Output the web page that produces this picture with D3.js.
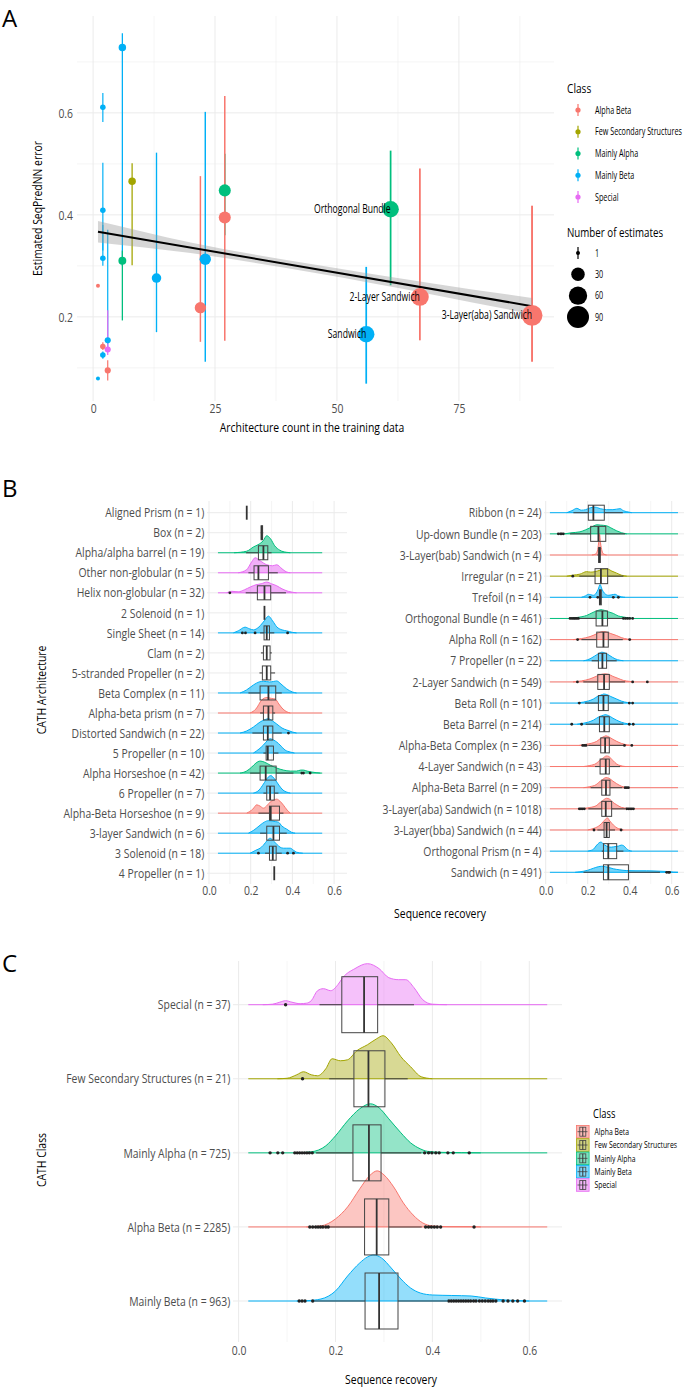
<!DOCTYPE html>
<html>
<head>
<meta charset="utf-8">
<script src="https://cdn.jsdelivr.net/npm/d3@7"></script>
<style>
body { margin: 0; background: #fff; }
text { font-family: "Open Sans", sans-serif; }
</style>
</head>
<body>
<svg width="685" height="1388"></svg>
<script>

// ---------- data: classes ----------
var classNames = ["Alpha Beta", "Few Secondary Structures", "Mainly Alpha", "Mainly Beta", "Special"];
var classColors = ["#F8766D", "#A3A500", "#00BF7D", "#00B0F6", "#E76BF3"];

// ---------- data: panel A (architecture error estimates) ----------
var archCount = [6, 2, 2, 2, 1, 3, 2, 3, 2, 3, 1, 8, 6, 13, 22, 23, 27, 27, 61, 56, 67, 90];
var archError = [0.728, 0.611, 0.409, 0.315, 0.261, 0.154, 0.142, 0.136, 0.125, 0.095, 0.079, 0.466, 0.31, 0.276, 0.218, 0.313, 0.448, 0.395, 0.411, 0.166, 0.239, 0.203];
var archLow = [0.30, 0.582, 0.33, 0.30, 0.261, 0.14, 0.135, 0.125, 0.118, 0.075, 0.079, 0.301, 0.193, 0.17, 0.151, 0.112, 0.36, 0.153, 0.262, 0.069, 0.154, 0.112];
var archHigh = [0.756, 0.639, 0.502, 0.38, 0.261, 0.371, 0.15, 0.213, 0.132, 0.115, 0.079, 0.501, 0.33, 0.522, 0.476, 0.602, 0.52, 0.633, 0.526, 0.298, 0.491, 0.418];
var archClass = ["Mainly Beta", "Mainly Beta", "Mainly Beta", "Mainly Beta", "Alpha Beta", "Mainly Beta", "Alpha Beta", "Special", "Mainly Beta", "Alpha Beta", "Mainly Beta",
  "Few Secondary Structures", "Mainly Alpha", "Mainly Beta", "Alpha Beta", "Mainly Beta", "Mainly Alpha", "Alpha Beta", "Mainly Alpha", "Mainly Beta", "Alpha Beta", "Alpha Beta"];
var archEstimates = [7, 3, 3, 3, 1, 4, 3, 4, 3, 4, 1, 7, 8, 13, 20, 20, 23, 23, 47, 47, 56, 80];
var archLabel = ["", "", "", "", "", "", "", "", "", "", "", "", "", "", "", "", "", "", "Orthogonal Bundle", "Sandwich", "2-Layer Sandwich", "3-Layer(aba) Sandwich"];
var fitX = [1, 90];
var fitY = [0.367, 0.221];
var bandX = [1, 20, 45, 70, 90];
var bandLo = [0.346, 0.325, 0.287, 0.243, 0.205];
var bandHi = [0.388, 0.346, 0.303, 0.265, 0.237];
var aXTicks = [0, 25, 50, 75];
var aXMinor = [12.5, 37.5, 62.5, 87.5];
var aYTicks = [0.2, 0.4, 0.6];
var aYMinor = [0.1, 0.3, 0.5, 0.7];
var sizeBreaks = [1, 30, 60, 90];

// ---------- data: panel B left ----------
var namesL = ["Aligned Prism (n = 1)", "Box (n = 2)", "Alpha/alpha barrel (n = 19)", "Other non-globular (n = 5)", "Helix non-globular (n = 32)",
  "2 Solenoid (n = 1)", "Single Sheet (n = 14)", "Clam (n = 2)", "5-stranded Propeller (n = 2)", "Beta Complex (n = 11)", "Alpha-beta prism (n = 7)",
  "Distorted Sandwich (n = 22)", "5 Propeller (n = 10)", "Alpha Horseshoe (n = 42)", "6 Propeller (n = 7)", "Alpha-Beta Horseshoe (n = 9)",
  "3-layer Sandwich (n = 6)", "3 Solenoid (n = 18)", "4 Propeller (n = 1)"];
var classL = [null, null, "Mainly Alpha", "Special", "Special", null, "Mainly Beta", null, null, "Mainly Beta", "Alpha Beta",
  "Mainly Beta", "Mainly Beta", "Mainly Alpha", "Mainly Beta", "Alpha Beta", "Mainly Beta", "Mainly Beta", null];
var boxL = [
  [0.181, 0.181, 0.181, 0.181, 0.181], [0.248, 0.25, 0.253, 0.257, 0.26], [0.178, 0.237, 0.261, 0.282, 0.30], [0.189, 0.216, 0.237, 0.285, 0.33],
  [0.176, 0.232, 0.266, 0.296, 0.369], [0.266, 0.266, 0.266, 0.266, 0.266], [0.245, 0.264, 0.277, 0.29, 0.313], [0.249, 0.261, 0.277, 0.293, 0.301],
  [0.242, 0.256, 0.277, 0.296, 0.317], [0.189, 0.245, 0.285, 0.32, 0.349], [0.245, 0.261, 0.285, 0.306, 0.317], [0.208, 0.261, 0.282, 0.306, 0.349],
  [0.261, 0.274, 0.282, 0.309, 0.333], [0.197, 0.245, 0.272, 0.322, 0.405], [0.261, 0.277, 0.293, 0.313, 0.333], [0.237, 0.29, 0.296, 0.338, 0.357],
  [0.245, 0.277, 0.309, 0.338, 0.373], [0.269, 0.29, 0.306, 0.322, 0.349], [0.313, 0.313, 0.313, 0.313, 0.313]];
var outL = [[], [], [], [], [0.10], [], [0.16, 0.175, 0.221, 0.377], [], [], [], [], [0.381], [], [0.445, 0.453, 0.485], [], [], [], [0.237, 0.377, 0.405], []];
var densL = [null, null,
  [[0.12, 0], [0.18, 1.5], [0.215, 6], [0.235, 8], [0.26, 12], [0.277, 17], [0.295, 14], [0.315, 7], [0.34, 2.5], [0.37, 0.5], [0.39, 0]],
  [[0.14, 0], [0.18, 3], [0.205, 11], [0.221, 15], [0.245, 12], [0.277, 8], [0.305, 7], [0.325, 8], [0.35, 4], [0.37, 1], [0.39, 0]],
  [[0.085, 0], [0.11, 1.5], [0.14, 1], [0.17, 3], [0.2, 6], [0.225, 8], [0.25, 9], [0.277, 10.7], [0.3, 9], [0.325, 7], [0.35, 4], [0.38, 1.5], [0.42, 0]],
  null,
  [[0.117, 0], [0.14, 2], [0.173, 5.7], [0.195, 4], [0.213, 3], [0.24, 6], [0.265, 12], [0.285, 16.7], [0.305, 12], [0.325, 6], [0.35, 3], [0.373, 2], [0.4, 0.5], [0.42, 0]],
  null, null,
  [[0.149, 0], [0.18, 3], [0.213, 8], [0.24, 11], [0.261, 11.7], [0.29, 11], [0.31, 11.5], [0.325, 12], [0.345, 9], [0.373, 4], [0.4, 1], [0.42, 0]],
  [[0.197, 0], [0.225, 4], [0.253, 13], [0.277, 15.5], [0.3, 14.5], [0.317, 14], [0.335, 9], [0.35, 5], [0.37, 1.5], [0.39, 0]],
  [[0.149, 0], [0.18, 2], [0.213, 6], [0.245, 11], [0.27, 13.5], [0.285, 14.3], [0.305, 12], [0.325, 9], [0.35, 5], [0.373, 3], [0.4, 1], [0.42, 0]],
  [[0.213, 0], [0.24, 4], [0.261, 8], [0.28, 12.5], [0.293, 14.3], [0.31, 13], [0.325, 11], [0.341, 8], [0.365, 3], [0.39, 1], [0.41, 0]],
  [[0.149, 0], [0.18, 2], [0.205, 6], [0.225, 10], [0.245, 12], [0.265, 11], [0.293, 8], [0.325, 5], [0.357, 3], [0.39, 2], [0.42, 2], [0.44, 3], [0.453, 3], [0.47, 2], [0.494, 1], [0.534, 0]],
  [[0.213, 0], [0.24, 3], [0.261, 9], [0.28, 15], [0.296, 17.5], [0.315, 14], [0.335, 8], [0.355, 3], [0.373, 1], [0.39, 0]],
  [[0.181, 0], [0.21, 4], [0.229, 8.3], [0.245, 7], [0.261, 5], [0.28, 8], [0.293, 11], [0.31, 13], [0.325, 14], [0.34, 12], [0.357, 8], [0.375, 3], [0.39, 0]],
  [[0.189, 0], [0.215, 3], [0.245, 8], [0.265, 11], [0.285, 12.5], [0.301, 12.3], [0.32, 11.5], [0.333, 11], [0.35, 7], [0.373, 4], [0.395, 1], [0.413, 0]],
  [[0.197, 0], [0.225, 3], [0.245, 5], [0.261, 8], [0.28, 13], [0.293, 15], [0.31, 12], [0.325, 9], [0.341, 6], [0.357, 5], [0.373, 5], [0.39, 5], [0.405, 3], [0.42, 1], [0.45, 0]],
  null];

// ---------- data: panel B right ----------
var namesR = ["Ribbon (n = 24)", "Up-down Bundle (n = 203)", "3-Layer(bab) Sandwich (n = 4)", "Irregular (n = 21)", "Trefoil (n = 14)",
  "Orthogonal Bundle (n = 461)", "Alpha Roll (n = 162)", "7 Propeller (n = 22)", "2-Layer Sandwich (n = 549)", "Beta Roll (n = 101)",
  "Beta Barrel (n = 214)", "Alpha-Beta Complex (n = 236)", "4-Layer Sandwich (n = 43)", "Alpha-Beta Barrel (n = 209)",
  "3-Layer(aba) Sandwich (n = 1018)", "3-Layer(bba) Sandwich (n = 44)", "Orthogonal Prism (n = 4)", "Sandwich (n = 491)"];
var classR = ["Mainly Beta", "Mainly Alpha", "Alpha Beta", "Few Secondary Structures", "Mainly Beta", "Mainly Alpha", "Alpha Beta", "Mainly Beta",
  "Alpha Beta", "Mainly Beta", "Mainly Beta", "Alpha Beta", "Alpha Beta", "Alpha Beta", "Alpha Beta", "Alpha Beta", "Mainly Beta", "Mainly Beta"];
var boxR = [
  [0.132, 0.203, 0.227, 0.279, 0.367], [0.116, 0.214, 0.251, 0.286, 0.378], [0.246, 0.252, 0.256, 0.26, 0.262], [0.16, 0.235, 0.263, 0.295, 0.37],
  [0.254, 0.256, 0.259, 0.265, 0.27], [0.163, 0.24, 0.27, 0.294, 0.367], [0.17, 0.243, 0.275, 0.298, 0.367], [0.219, 0.251, 0.27, 0.29, 0.338],
  [0.179, 0.248, 0.278, 0.303, 0.378], [0.187, 0.251, 0.275, 0.298, 0.37], [0.19, 0.256, 0.279, 0.303, 0.37], [0.203, 0.262, 0.283, 0.303, 0.37],
  [0.235, 0.259, 0.286, 0.303, 0.354], [0.214, 0.267, 0.287, 0.306, 0.365], [0.203, 0.267, 0.286, 0.314, 0.378], [0.246, 0.278, 0.29, 0.303, 0.33],
  [0.267, 0.275, 0.298, 0.338, 0.37], [0.18, 0.275, 0.298, 0.394, 0.544]];
var outR = [[], [0.06, 0.07, 0.076, 0.084], [], [0.129], [0.211, 0.248, 0.322, 0.346],
  [0.116, 0.125, 0.133, 0.14, 0.148, 0.156, 0.37, 0.38, 0.39, 0.40, 0.414], [0.152, 0.40], [], [0.151, 0.414, 0.484], [0.16, 0.398, 0.414],
  [0.124, 0.171, 0.398, 0.417], [0.176, 0.184, 0.192, 0.375, 0.41], [], [0.378, 0.386, 0.394],
  [0.16, 0.168, 0.176, 0.184, 0.386, 0.394, 0.402, 0.41, 0.418], [0.23, 0.359], [], [0.576, 0.584, 0.59]];
var densR = [
  [[0.1, 0], [0.125, 2], [0.148, 4.3], [0.17, 2.5], [0.19, 3], [0.215, 5], [0.235, 5.5], [0.26, 4], [0.29, 3], [0.32, 3], [0.354, 4], [0.37, 2], [0.386, 1], [0.41, 0]],
  [[0.09, 0], [0.12, 1], [0.163, 2], [0.19, 4], [0.211, 6], [0.23, 8], [0.243, 9], [0.26, 8.7], [0.29, 8], [0.31, 6], [0.338, 3], [0.36, 1.2], [0.386, 0]],
  [[0.22, 0], [0.238, 1], [0.246, 4], [0.252, 12], [0.256, 21], [0.261, 12], [0.268, 4], [0.276, 1], [0.29, 0]],
  [[0.1, 0], [0.13, 1], [0.163, 2], [0.195, 4.5], [0.215, 4], [0.235, 4.5], [0.26, 6], [0.28, 7], [0.295, 7], [0.315, 5], [0.338, 3], [0.36, 1], [0.386, 0]],
  [[0.17, 0], [0.19, 1.5], [0.203, 3], [0.215, 2.5], [0.227, 2], [0.24, 4], [0.25, 8], [0.259, 12.7], [0.268, 8], [0.28, 4], [0.298, 2], [0.315, 2.5], [0.33, 3], [0.345, 1.5], [0.36, 0.5], [0.378, 0]],
  [[0.11, 0], [0.15, 1], [0.195, 3], [0.225, 6], [0.25, 8], [0.263, 8.7], [0.28, 8], [0.3, 6.5], [0.322, 5], [0.345, 2.5], [0.37, 1.5], [0.395, 0.5], [0.42, 0]],
  [[0.13, 0], [0.17, 1], [0.211, 3], [0.24, 5.5], [0.26, 7.5], [0.275, 8], [0.29, 7.5], [0.31, 6], [0.338, 4], [0.36, 2], [0.39, 0.5], [0.41, 0]],
  [[0.18, 0], [0.2, 1], [0.22, 3], [0.243, 6], [0.26, 8], [0.267, 8.5], [0.28, 8], [0.306, 5], [0.33, 2], [0.354, 0.5], [0.37, 0]],
  [[0.13, 0], [0.17, 1], [0.211, 3], [0.24, 5.5], [0.265, 7.5], [0.283, 8], [0.3, 7.5], [0.32, 5.5], [0.345, 3.5], [0.37, 1.5], [0.4, 0.5], [0.42, 0]],
  [[0.15, 0], [0.18, 1], [0.227, 4], [0.25, 7], [0.27, 8.5], [0.275, 9], [0.29, 8.5], [0.31, 6.5], [0.338, 4], [0.36, 2], [0.39, 0.5], [0.41, 0]],
  [[0.15, 0], [0.18, 1], [0.227, 4], [0.255, 7.5], [0.275, 9], [0.283, 9.5], [0.3, 8.5], [0.32, 6], [0.338, 4], [0.36, 2], [0.39, 0.5], [0.41, 0]],
  [[0.16, 0], [0.19, 1], [0.243, 4], [0.265, 7.5], [0.28, 9], [0.286, 9.5], [0.3, 8.5], [0.32, 6], [0.338, 4], [0.36, 2], [0.39, 0.5], [0.41, 0]],
  [[0.18, 0], [0.21, 1], [0.24, 3], [0.251, 5], [0.27, 8], [0.29, 10.5], [0.3, 10], [0.32, 6], [0.338, 2.5], [0.354, 1], [0.38, 0]],
  [[0.18, 0], [0.21, 1], [0.24, 3], [0.251, 5], [0.27, 8], [0.287, 10], [0.3, 9.5], [0.32, 6.5], [0.338, 4], [0.36, 1.5], [0.39, 0]],
  [[0.17, 0], [0.2, 1], [0.24, 3], [0.251, 5], [0.27, 8], [0.29, 10.5], [0.305, 9.5], [0.32, 6.5], [0.338, 4], [0.36, 1.5], [0.39, 0.5], [0.41, 0]],
  [[0.2, 0], [0.227, 1.5], [0.245, 3], [0.259, 5], [0.275, 8.5], [0.294, 12], [0.305, 9], [0.322, 5], [0.34, 2], [0.354, 1], [0.37, 0]],
  [[0.2, 0], [0.211, 0.5], [0.228, 2], [0.243, 6], [0.263, 9], [0.278, 6.5], [0.29, 5], [0.305, 4], [0.314, 4], [0.33, 4.5], [0.346, 5], [0.36, 6], [0.37, 5.5], [0.385, 2.5], [0.394, 1], [0.41, 0]],
  [[0.14, 0], [0.163, 0.5], [0.2, 2], [0.227, 4], [0.25, 5.5], [0.267, 6], [0.285, 5.5], [0.305, 4.5], [0.322, 3.5], [0.35, 2.5], [0.386, 1.7], [0.43, 1.5], [0.481, 1.5], [0.53, 1.2], [0.576, 0.8], [0.608, 0.2], [0.63, 0]]];

// ---------- data: panel C ----------
var namesC = ["Special (n = 37)", "Few Secondary Structures (n = 21)", "Mainly Alpha (n = 725)", "Alpha Beta (n = 2285)", "Mainly Beta (n = 963)"];
var classC = ["Special", "Few Secondary Structures", "Mainly Alpha", "Alpha Beta", "Mainly Beta"];
var boxC = [[0.167, 0.213, 0.259, 0.287, 0.362], [0.187, 0.238, 0.268, 0.302, 0.349], [0.16, 0.236, 0.269, 0.294, 0.377],
  [0.185, 0.26, 0.285, 0.31, 0.378], [0.156, 0.261, 0.29, 0.329, 0.43]];
var outC = [[0.097], [0.132],
  [0.065, 0.081, 0.091, 0.116, 0.121, 0.126, 0.131, 0.136, 0.141, 0.146, 0.152, 0.384, 0.392, 0.399, 0.407, 0.414, 0.432, 0.443, 0.476],
  [0.147, 0.153, 0.159, 0.164, 0.169, 0.174, 0.18, 0.185, 0.386, 0.392, 0.398, 0.404, 0.41, 0.417, 0.486],
  [0.125, 0.131, 0.137, 0.153, 0.434, 0.439, 0.444, 0.449, 0.454, 0.459, 0.464, 0.469, 0.474, 0.479, 0.485, 0.49, 0.497, 0.503, 0.509, 0.515, 0.52, 0.525, 0.531, 0.546, 0.556, 0.566, 0.576, 0.59]];
var densC = [
  [[0.05, 0], [0.07, 0.5], [0.085, 2.5], [0.097, 4], [0.11, 2.5], [0.127, 1], [0.14, 1.5], [0.15, 4], [0.163, 14], [0.175, 16], [0.19, 14], [0.205, 20], [0.215, 27], [0.24, 36], [0.266, 41], [0.29, 36], [0.31, 27], [0.33, 25], [0.345, 25], [0.362, 17], [0.38, 5], [0.4, 0.5], [0.43, 0]],
  [[0.08, 0], [0.1, 0.5], [0.12, 4], [0.134, 7], [0.15, 4], [0.163, 3], [0.18, 10], [0.193, 20], [0.21, 18], [0.225, 19], [0.244, 28], [0.266, 34], [0.285, 40], [0.298, 43], [0.315, 36], [0.335, 22], [0.355, 12], [0.377, 2], [0.4, 0]],
  [[0.12, 0], [0.15, 1], [0.18, 7], [0.2, 17], [0.225, 32], [0.25, 44], [0.272, 49], [0.29, 45], [0.31, 34], [0.335, 20], [0.355, 10], [0.375, 4], [0.39, 1.5], [0.42, 0.5], [0.46, 0.2], [0.5, 0]],
  [[0.14, 0], [0.17, 1], [0.2, 8], [0.225, 20], [0.25, 38], [0.27, 51], [0.286, 56], [0.3, 52], [0.32, 40], [0.34, 24], [0.36, 12], [0.38, 4], [0.4, 1], [0.43, 0.3], [0.48, 0.2], [0.5, 0]],
  [[0.12, 0], [0.14, 0.3], [0.17, 2], [0.2, 10], [0.225, 25], [0.25, 38], [0.266, 44], [0.279, 46], [0.295, 43], [0.315, 33], [0.335, 22], [0.355, 13], [0.375, 8], [0.4, 6], [0.44, 5.5], [0.48, 5], [0.51, 3], [0.55, 1], [0.6, 0]]];
var recTicks = [0, 0.2, 0.4, 0.6];
var recMinor = [0.1, 0.3, 0.5];

// ---------- helpers ----------
var svg = d3.select("svg");
var color = d3.scaleOrdinal().domain(classNames).range(classColors);
var SQ = 0.8;   // the figure font is narrow, squeeze text horizontally
var GRID = "#EBEBEB";

function txt(g, x, y, s, size, anchor, k, rot) {
  return g.append("text")
    .attr("transform", "translate(" + x + "," + y + ")" + (rot ? " rotate(" + rot + ")" : "") + " scale(" + k + ",1)")
    .attr("text-anchor", anchor)
    .style("font-size", size + "px")
    .text(s);
}

function styleAxis(g, size, k) {
  g.attr("font-family", "Open Sans").attr("font-size", size);
  g.select(".domain").remove();
  g.selectAll("text").attr("fill", "#4D4D4D").attr("transform", "scale(" + k + ",1)");
}

function vgrid(g, xs, major, minor, y1, y2) {
  g.selectAll(null).data(minor).enter().append("line")
    .attr("x1", xs).attr("x2", xs).attr("y1", y1).attr("y2", y2)
    .attr("stroke", GRID).attr("stroke-width", 0.5);
  g.selectAll(null).data(major).enter().append("line")
    .attr("x1", xs).attr("x2", xs).attr("y1", y1).attr("y2", y2)
    .attr("stroke", GRID).attr("stroke-width", 1);
}

// ================= PANEL A =================
var gA = svg.append("g");
var ax = d3.scaleLinear().domain([-3.3, 94.5]).range([77, 554]);
var ay = d3.scaleLinear().domain([0.035, 0.79]).range([401, 16]);
var ar = d3.scaleSqrt().domain([1, 90]).range([2, 11]);

vgrid(gA, ax, aXTicks, aXMinor, ay.range()[1], ay.range()[0]);
gA.selectAll(null).data(aYMinor).enter().append("line")
  .attr("x1", ax.range()[0]).attr("x2", ax.range()[1]).attr("y1", ay).attr("y2", ay)
  .attr("stroke", GRID).attr("stroke-width", 0.5);
gA.selectAll(null).data(aYTicks).enter().append("line")
  .attr("x1", ax.range()[0]).attr("x2", ax.range()[1]).attr("y1", ay).attr("y2", ay)
  .attr("stroke", GRID).attr("stroke-width", 1);

var gax = gA.append("g").attr("transform", "translate(0," + ay.range()[0] + ")")
  .call(d3.axisBottom(ax).tickValues(aXTicks).tickSize(0).tickPadding(3).tickFormat(d3.format("d")));
styleAxis(gax, 13, SQ);
var gay = gA.append("g").attr("transform", "translate(" + ax.range()[0] + ",0)")
  .call(d3.axisLeft(ay).tickValues(aYTicks).tickSize(0).tickPadding(5).tickFormat(d3.format(".1f")));
styleAxis(gay, 13, SQ);

// error bars then points
var idxA = d3.range(archCount.length);
gA.selectAll(".bar").data(idxA).enter().append("line")
  .attr("x1", function (i) { return ax(archCount[i]); })
  .attr("x2", function (i) { return ax(archCount[i]); })
  .attr("y1", function (i) { return ay(archLow[i]); })
  .attr("y2", function (i) { return ay(archHigh[i]); })
  .attr("stroke", function (i) { return color(archClass[i]); })
  .attr("stroke-width", function (i) { return 0.9 + ar(archEstimates[i]) * 0.1; });

// regression band + line
var bandIdx = d3.range(bandX.length);
gA.append("path").datum(bandIdx)
  .attr("d", d3.area().x(function (i) { return ax(bandX[i]); })
    .y0(function (i) { return ay(bandLo[i]); }).y1(function (i) { return ay(bandHi[i]); }).curve(d3.curveMonotoneX))
  .attr("fill", "#999").attr("fill-opacity", 0.4);
gA.append("line")
  .attr("x1", ax(fitX[0])).attr("x2", ax(fitX[1])).attr("y1", ay(fitY[0])).attr("y2", ay(fitY[1]))
  .attr("stroke", "#000").attr("stroke-width", 2);

gA.selectAll(".pt").data(idxA).enter().append("circle")
  .attr("cx", function (i) { return ax(archCount[i]); })
  .attr("cy", function (i) { return ay(archError[i]); })
  .attr("r", function (i) { return ar(archEstimates[i]); })
  .attr("fill", function (i) { return color(archClass[i]); });

idxA.filter(function (i) { return archLabel[i]; }).forEach(function (i) {
  txt(gA, ax(archCount[i]), ay(archError[i]) + 4, archLabel[i], 12, "end", 0.72);
});

txt(gA, 41.5, (ay.range()[0] + ay.range()[1]) / 2, "Estimated SeqPredNN error", 13, "middle", SQ, -90);
txt(gA, 312, 431.5, "Architecture count in the training data", 13, "middle", SQ);

// legends A
var lgA = svg.append("g");
txt(lgA, 567, 93, "Class", 13, "start", 0.78);
var lyA = d3.scalePoint().domain(classNames).range([110, 197]);
classNames.forEach(function (c) {
  lgA.append("line").attr("x1", 578).attr("x2", 578).attr("y1", lyA(c) - 6).attr("y2", lyA(c) + 6)
    .attr("stroke", color(c)).attr("stroke-width", 1.2);
  lgA.append("circle").attr("cx", 578).attr("cy", lyA(c)).attr("r", 2.6).attr("fill", color(c));
  txt(lgA, 595, lyA(c) + 3.5, c, 10, "start", 0.72);
});
txt(lgA, 567, 237, "Number of estimates", 13, "start", 0.75);
var lsA = d3.scalePoint().domain(sizeBreaks).range([253, 317]);
sizeBreaks.forEach(function (s) {
  if (s === 1) lgA.append("line").attr("x1", 578).attr("x2", 578).attr("y1", lsA(s) - 6).attr("y2", lsA(s) + 6)
    .attr("stroke", "#000").attr("stroke-width", 1.2);
  lgA.append("circle").attr("cx", 578).attr("cy", lsA(s)).attr("r", ar(s)).attr("fill", "#000");
  txt(lgA, 595, lsA(s) + 3.5, String(s), 10, "start", 0.72);
});

// ================= ridge helper =================
function ridges(g, names, classes, boxes, outs, dens, xs, ys, hs, range, boxH, fillOp, ptR) {
  names.forEach(function (nm, i) {
    var d = dens[i];
    if (!d) return;
    var base = ys(nm), col = color(classes[i]);
    g.append("line").attr("x1", xs(range[0])).attr("x2", xs(range[1])).attr("y1", base).attr("y2", base)
      .attr("stroke", col).attr("stroke-width", 1);
    g.append("path").datum(d)
      .attr("d", d3.area().curve(d3.curveMonotoneX).x(function (p) { return xs(p[0]); })
        .y0(base).y1(function (p) { return base - hs(p[1]); }))
      .attr("fill", col).attr("fill-opacity", fillOp);
    g.append("path").datum(d)
      .attr("d", d3.line().curve(d3.curveMonotoneX).x(function (p) { return xs(p[0]); })
        .y(function (p) { return base - hs(p[1]); }))
      .attr("fill", "none").attr("stroke", col).attr("stroke-width", 1);
  });
  names.forEach(function (nm, i) {
    var base = ys(nm), b = boxes[i];
    g.append("line").attr("x1", xs(b[0])).attr("x2", xs(b[1])).attr("y1", base).attr("y2", base)
      .attr("stroke", "#444").attr("stroke-width", 1.1);
    g.append("line").attr("x1", xs(b[3])).attr("x2", xs(b[4])).attr("y1", base).attr("y2", base)
      .attr("stroke", "#444").attr("stroke-width", 1.1);
    g.append("rect").attr("x", xs(b[1])).attr("width", xs(b[3]) - xs(b[1]))
      .attr("y", base - boxH / 2).attr("height", boxH)
      .attr("fill", "none").attr("stroke", "#444").attr("stroke-width", 1);
    g.append("line").attr("x1", xs(b[2])).attr("x2", xs(b[2]))
      .attr("y1", base - boxH / 2).attr("y2", base + boxH / 2)
      .attr("stroke", "#333").attr("stroke-width", 1.8);
    g.selectAll(null).data(outs[i]).enter().append("circle")
      .attr("cx", xs).attr("cy", base).attr("r", ptR).attr("fill", "#222");
  });
}

function rowGrid(g, ys, names, x1, x2) {
  g.selectAll(null).data(names).enter().append("line")
    .attr("x1", x1).attr("x2", x2).attr("y1", ys).attr("y2", ys)
    .attr("stroke", GRID).attr("stroke-width", 1);
}

// ================= PANEL B =================
var gB = svg.append("g");
var bTop = 501, bBot = 884;
var bxL = d3.scaleLinear().domain([0, 0.6]).range([209, 334.1]);
var bxR = d3.scaleLinear().domain([0, 0.6]).range([545.7, 671.7]);
var byL = d3.scalePoint().domain(namesL).range([512.7, 512.7 + 18 * 20.03]);
var byR = d3.scalePoint().domain(namesR).range([512.7, 872.3]);
var bhL = d3.scaleLinear().domain([0, 20]).range([0, byL.step()]);
var bhR = d3.scaleLinear().domain([0, 21]).range([0, byR.step()]);

vgrid(gB, bxL, recTicks, recMinor, bTop, bBot);
vgrid(gB, bxR, recTicks, recMinor, bTop, bBot);
rowGrid(gB, byL, namesL, 207, 347);
rowGrid(gB, byR, namesR, 544, 684);

ridges(gB, namesL, classL, boxL, outL, densL, bxL, byL, bhL, [0.043, 0.543], 14, 0.55, 1.4);
ridges(gB, namesR, classR, boxR, outR, densR, bxR, byR, bhR, [0.02, 0.63], 15, 0.55, 1.4);

var gbl = gB.append("g").attr("transform", "translate(207,0)")
  .call(d3.axisLeft(byL).tickSize(0).tickPadding(3.5));
styleAxis(gbl, 13, SQ);
var gbr = gB.append("g").attr("transform", "translate(544,0)")
  .call(d3.axisLeft(byR).tickSize(0).tickPadding(3));
styleAxis(gbr, 13, SQ);
var gbxl = gB.append("g").attr("transform", "translate(0," + bBot + ")")
  .call(d3.axisBottom(bxL).tickValues(recTicks).tickSize(0).tickPadding(2).tickFormat(d3.format(".1f")));
styleAxis(gbxl, 13, SQ);
var gbxr = gB.append("g").attr("transform", "translate(0," + bBot + ")")
  .call(d3.axisBottom(bxR).tickValues(recTicks).tickSize(0).tickPadding(2).tickFormat(d3.format(".1f")));
styleAxis(gbxr, 13, SQ);

txt(gB, 46, 690, "CATH Architecture", 13, "middle", SQ, -90);
txt(gB, 440, 917.5, "Sequence recovery", 13, "middle", SQ);

// ================= PANEL C =================
var gC = svg.append("g");
var cTop = 961, cBot = 1342;
var cx = d3.scaleLinear().domain([0, 0.6]).range([238.6, 529.3]);
var cy = d3.scalePoint().domain(namesC).range([1004.7, 1301]);
var ch = d3.scaleLinear().domain([0, 74]).range([0, cy.step()]);

vgrid(gC, cx, recTicks, recMinor, cTop, cBot);
rowGrid(gC, cy, namesC, 233, 562);
ridges(gC, namesC, classC, boxC, outC, densC, cx, cy, ch, [0.02, 0.637], 56, 0.42, 1.7);

var gcy = gC.append("g").attr("transform", "translate(233,0)")
  .call(d3.axisLeft(cy).tickSize(0).tickPadding(3.5));
styleAxis(gcy, 13, SQ);
var gcx = gC.append("g").attr("transform", "translate(0," + cBot + ")")
  .call(d3.axisBottom(cx).tickValues(recTicks).tickSize(0).tickPadding(4).tickFormat(d3.format(".1f")));
styleAxis(gcx, 13, SQ);

txt(gC, 45.5, 1160, "CATH Class", 13, "middle", SQ, -90);
txt(gC, 391, 1383.5, "Sequence recovery", 13, "middle", SQ);

// legend C
var lgC = svg.append("g");
txt(lgC, 593, 1118, "Class", 12, "start", 0.78);
var lyC = d3.scalePoint().domain(classNames).range([1131.7, 1185]);
classNames.forEach(function (c) {
  var y = lyC(c);
  lgC.append("rect").attr("x", 576.5).attr("y", y - 6.3).attr("width", 12.6).attr("height", 12.6)
    .attr("fill", color(c)).attr("fill-opacity", 0.5).attr("stroke", color(c)).attr("stroke-width", 0.8);
  lgC.append("line").attr("x1", 577.5).attr("x2", 587.5).attr("y1", y).attr("y2", y).attr("stroke", "#444").attr("stroke-width", 0.8);
  lgC.append("rect").attr("x", 579.8).attr("y", y - 4.5).attr("width", 6).attr("height", 9)
    .attr("fill", "none").attr("stroke", "#444").attr("stroke-width", 0.8);
  lgC.append("line").attr("x1", 582.8).attr("x2", 582.8).attr("y1", y - 4.5).attr("y2", y + 4.5).attr("stroke", "#333").attr("stroke-width", 1);
  txt(lgC, 594.5, y + 3.3, c, 9.5, "start", 0.72);
});

// panel letters
txt(svg, 2, 27, "A", 24, "start", 1);
txt(svg, 2, 497, "B", 24, "start", 1);
txt(svg, 2, 972, "C", 24, "start", 1);

</script>
</body>
</html>
